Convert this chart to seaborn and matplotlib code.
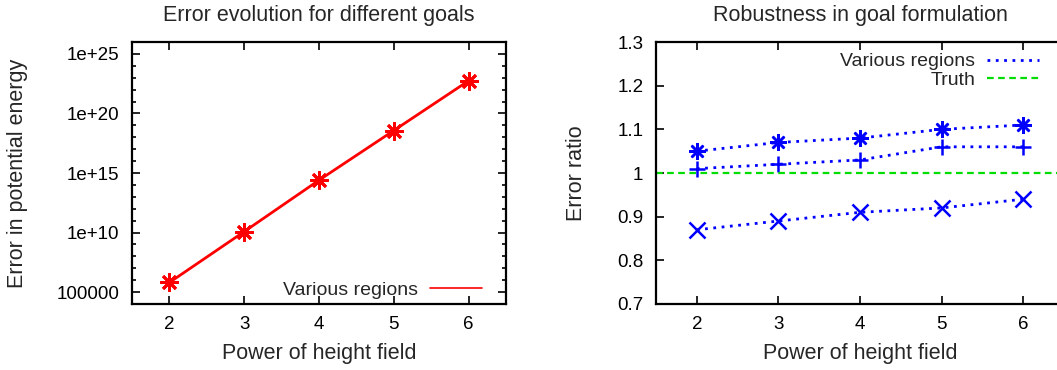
import numpy as np
import pandas as pd
import matplotlib
matplotlib.use("Agg")
import matplotlib.pyplot as plt
import matplotlib.ticker as mticker
from matplotlib.lines import Line2D
import seaborn as sns

# data
powers = [2, 3, 4, 5, 6]
energy_error = [6.4e5, 1.2e10, 2.5e14, 3.7e18, 5.6e22]

ratio_star = [1.05, 1.07, 1.08, 1.10, 1.11]
ratio_plus = [1.01, 1.02, 1.03, 1.06, 1.06]
ratio_cross = [0.87, 0.89, 0.91, 0.92, 0.94]
truth = 1.0

left_yticks = [1e5, 1e10, 1e15, 1e20, 1e25]
left_yticklabels = ["100000", "1e+10", "1e+15", "1e+20", "1e+25"]
right_yticks = [0.7, 0.8, 0.9, 1.0, 1.1, 1.2, 1.3]
right_yticklabels = ["0.7", "0.8", "0.9", "1", "1.1", "1.2", "1.3"]

sns.set_style("ticks")
plt.rcParams["font.family"] = ["Liberation Sans", "DejaVu Sans"]
FS_LAB = 15.5   # titles and axis labels
FS_TICK = 13.5
FS_LEG = 14
GREEN = "#00dd00"

fig = plt.figure(figsize=(10.57, 3.70), dpi=100)
ax1 = fig.add_axes([0.1249, 0.1784, 0.3538, 0.708])
ax2 = fig.add_axes([0.6206, 0.1784, 0.386, 0.708])


def style_axes(ax, right=True):
    for s in ax.spines.values():
        s.set_linewidth(1.6)
        s.set_color("black")
    ax.tick_params(which="both", direction="in", top=True, right=right,
                   labelsize=FS_TICK, width=1.2, colors="black")
    ax.tick_params(which="major", length=6, pad=9)
    ax.tick_params(which="minor", length=3)
    ax.set_xlim(1.5, 6.5)
    ax.set_xticks(powers)
    ax.set_xticklabels([str(p) for p in powers])
    ax.set_xlabel("Power of height field", fontsize=FS_LAB, labelpad=7)


# -----------------------------------------------------
# left: error evolution (log scale)
# -----------------------------------------------------
df_left = pd.DataFrame({"power": powers, "error": energy_error})
sns.lineplot(data=df_left, x="power", y="error", ax=ax1, color="red",
             linewidth=2, marker=(8, 2, 0), markersize=13,
             markeredgewidth=2, markeredgecolor="red")
ax1.set_yscale("log")
ax1.set_ylim(1e4, 1e26)
ax1.yaxis.set_major_locator(mticker.FixedLocator(left_yticks))
ax1.yaxis.set_minor_locator(mticker.FixedLocator([10.0 ** k for k in range(4, 27)]))
ax1.yaxis.set_minor_formatter(mticker.NullFormatter())
ax1.set_yticklabels(left_yticklabels)
style_axes(ax1)
ax1.set_ylabel("Error in potential energy", fontsize=FS_LAB)
ax1.yaxis.set_label_coords(-0.278, 0.5)
ax1.set_title("Error evolution for different goals", fontsize=FS_LAB, pad=15)
ax1.legend([Line2D([], [], color="red", lw=1.2)], ["Various regions"],
           loc="lower right", frameon=False, markerfirst=False, fontsize=FS_LEG,
           handlelength=2.7, handletextpad=0.6,
           bbox_to_anchor=(490 / 1057, (370 - 307) / 370),
           bbox_transform=fig.transFigure, borderaxespad=0)

# -----------------------------------------------------
# right: robustness
# -----------------------------------------------------
series = [(ratio_star, (8, 2, 0), 12), (ratio_plus, "+", 11), (ratio_cross, "x", 11)]
for vals, mk, ms in series:
    df_r = pd.DataFrame({"power": powers, "ratio": vals})
    sns.lineplot(data=df_r, x="power", y="ratio", ax=ax2, color="blue",
                 linewidth=2, linestyle=(0, (1, 2)), marker=mk,
                 markersize=ms, markeredgewidth=1.8, markeredgecolor="blue")
ax2.axhline(truth, color=GREEN, linewidth=1.6, linestyle=(0, (3, 2)))
ax2.set_ylim(0.7, 1.3)
ax2.set_yticks(right_yticks)
ax2.set_yticklabels(right_yticklabels)
style_axes(ax2, right=False)
ax2.set_ylabel("Error ratio", fontsize=FS_LAB)
ax2.yaxis.set_label_coords(-0.169, 0.5)
ax2.set_title("Robustness in goal formulation", fontsize=FS_LAB, pad=15)
handles = [Line2D([], [], color="blue", lw=2, linestyle=(0, (1, 2))),
           Line2D([], [], color=GREEN, lw=1.6, linestyle=(0, (3, 2)))]
ax2.legend(handles, ["Various regions", "Truth"], loc="upper right",
           bbox_to_anchor=(1047 / 1057, (370 - 45) / 370),
           bbox_transform=fig.transFigure, borderaxespad=0,
           frameon=False, markerfirst=False, fontsize=FS_LEG,
           handlelength=2.7, handletextpad=0.6, labelspacing=0.05)

fig.savefig("out.png", dpi=100)
